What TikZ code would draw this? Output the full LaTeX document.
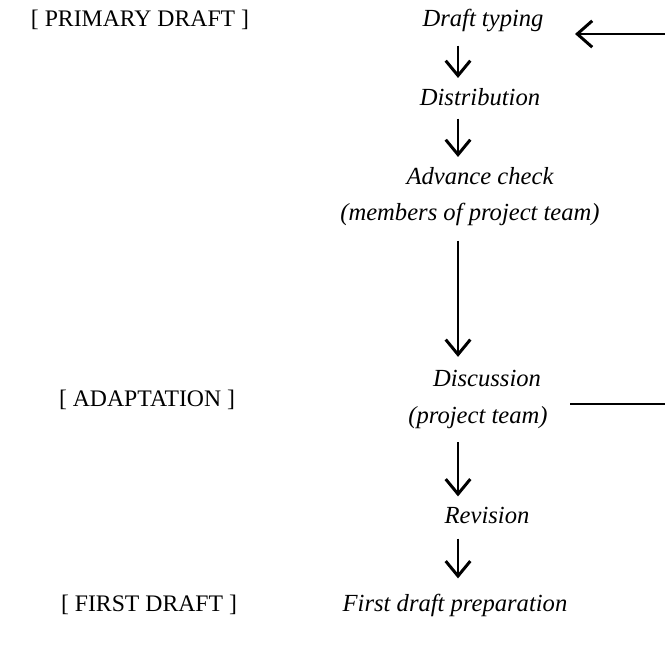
\documentclass[tikz,border=0pt]{standalone}
\usepackage{fontspec}
\setmainfont{Liberation Serif}
\usetikzlibrary{arrows.meta}
\tikzset{
  step text/.style={font=\fontsize{14}{15}\selectfont\itshape, inner sep=0pt, anchor=center},
  phase/.style={font=\fontsize{13.5}{15}\selectfont, inner sep=0pt, anchor=center},
  flow/.style={line width=1.6pt, -{Straight Barb[length=8.5pt,width=14pt,line width=1.7pt]}},
  feedback/.style={line width=1.6pt},
}
\begin{document}
\begin{tikzpicture}[x=0.02cm,y=-0.02cm]
\useasboundingbox (0,0) rectangle (665,648);
% phase labels
\node[phase] (p1) at (140,20) {[ PRIMARY DRAFT ]};
\node[phase] (p2) at (147,400) {[ ADAPTATION ]};
\node[phase] (p3) at (149,605) {[ FIRST DRAFT ]};
% steps
\node[step text] (typing) at (483,20) {Draft typing};
\node[step text] (distr) at (480,97) {Distribution};
\node[step text] (adv) at (480,176) {Advance check};
\node[step text] (advb) at (470,214) {(members of project team)};
\node[step text] (disc) at (487,378) {Discussion};
\node[step text] (discb) at (478,418) {(project team)};
\node[step text] (rev) at (487,515) {Revision};
\node[step text] (first) at (455,605) {First draft preparation};
% arrows
\coordinate (ax) at (458,0);
\draw[flow] ([yshift=-0.28cm]ax |- typing.south) -- ([yshift=0.2cm]ax |- distr.north);
\draw[flow] ([yshift=-0.25cm]ax |- distr.south) -- ([yshift=0.2cm]ax |- adv.north);
\draw[flow] ([yshift=-0.3cm]ax |- advb.south) -- ([yshift=0.25cm]ax |- disc.north);
\draw[flow] ([yshift=-0.25cm]ax |- discb.south) -- ([yshift=0.2cm]ax |- rev.north);
\draw[flow] ([yshift=-0.3cm]ax |- rev.south) -- ([yshift=0.3cm]ax |- first.north);
% feedback lines
\coordinate (fbtop) at (665,34);
\coordinate (fbtip) at (575,34);
\draw[feedback, -{Straight Barb[length=8.5pt,width=15pt,line width=1.7pt]}] (fbtop) -- (fbtip);
\coordinate (fbbotA) at (570,404);
\coordinate (fbbotB) at (665,404);
\draw[feedback] (fbbotA) -- (fbbotB);
\end{tikzpicture}
\end{document}
